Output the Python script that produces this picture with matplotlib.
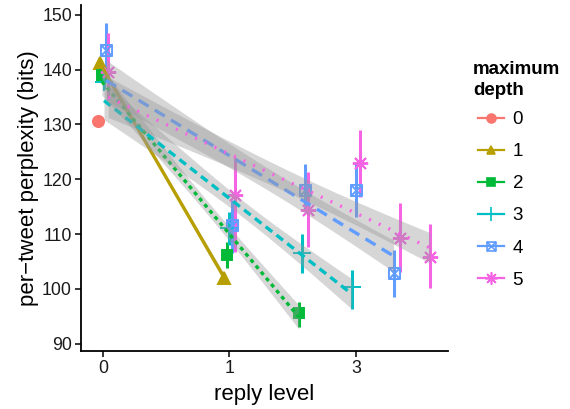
import numpy as np
import matplotlib
matplotlib.use("Agg")
import matplotlib.pyplot as plt
from matplotlib.path import Path
from matplotlib.lines import Line2D

plt.rcParams['font.family'] = ['Liberation Sans', 'DejaVu Sans']

# datos: medias por nivel de respuesta y profundidad maxima
profundidades = [0, 1, 2, 3, 4, 5]
colores = ['#F8766D', '#B79F00', '#00BA38', '#00BFC4', '#619CFF', '#F564E3']

medias = {
    0: [130.7],
    1: [141.2, 102.0],
    2: [139.1, 106.2, 95.6],
    3: [137.8, 111.2, 106.6, 100.4],
    4: [143.6, 111.7, 118.1, 118.0, 103.0],
    5: [139.6, 117.2, 114.4, 123.0, 109.3, 105.9],
}
inferior = {
    0: [130.3],
    1: [140.4, 101.2],
    2: [137.7, 103.9, 93.1],
    3: [136.5, 108.0, 102.9, 96.3],
    4: [138.5, 106.6, 114.4, 113.2, 98.6],
    5: [134.5, 106.8, 107.7, 116.8, 103.1, 100.2],
}
superior = {
    0: [131.1],
    1: [142.0, 102.8],
    2: [140.5, 108.6, 97.7],
    3: [139.0, 114.0, 110.0, 103.5],
    4: [148.5, 116.3, 122.8, 123.0, 107.1],
    5: [146.7, 124.1, 121.4, 129.0, 115.7, 111.9],
}

# ajustes lineales (intercepto, pendiente) y ancho de la banda de confianza
ajuste_intercepto = {1: 140.2, 2: 137.6, 3: 134.5, 4: 138.4, 5: 135.4}
ajuste_pendiente = {1: -39.8, 2: -27.6, 3: -18.0, 4: -14.1, 5: -10.8}
banda_centro = {1: 0.4, 2: 1.2, 3: 1.5, 4: 2.0, 5: 2.0}
banda_extremo = {1: 0.7, 2: 2.5, 3: 3.5, 4: 3.7, 5: 3.7}

etiquetas_x = ['0', '1', '3']
valores_x = [0, 1, 3]

# marcador cuadrado con una cruz (como shape 7 de ggplot)
cuadro_x = Path([(-1, -1), (1, -1), (1, 1), (-1, 1), (-1, -1), (1, 1), (-1, 1), (1, -1)],
                [Path.MOVETO, Path.LINETO, Path.LINETO, Path.LINETO, Path.LINETO,
                 Path.LINETO, Path.MOVETO, Path.LINETO])
marcadores = ['o', '^', 's', '+', cuadro_x, (8, 2, 0)]
tam_marcador = [8, 8, 7.5, 13, 8, 11]
relleno = [True, True, True, False, False, False]
estilos = ['-', '-', (0, (1.2, 1.2)), (0, (2.5, 1.6)), (0, (3.5, 2.2)), (0, (0.6, 2.6))]

ancho_dodge = 0.1


def posicion_x(prof, nivel):
    n = 6 - nivel
    i = prof - nivel
    return np.log2(nivel + 1) + ancho_dodge * ((i + 0.5) / n - 0.5)


fig = plt.figure(figsize=(5.7, 4.09), dpi=100)
ax = fig.add_axes([0.142, 0.142, 0.644, 0.846])

# puntos con intervalos
for d in profundidades:
    xs = np.array([posicion_x(d, r) for r in range(d + 1)])
    ys = np.array(medias[d])
    ax.vlines(xs, inferior[d], superior[d], color=colores[d], lw=2.2, zorder=2)
    fc = colores[d] if relleno[d] else 'none'
    ax.plot(xs, ys, ls='none', marker=marcadores[d], ms=tam_marcador[d],
            mfc=fc, mec=colores[d], mew=1.4, color=colores[d], zorder=3)

# regresiones con bandas
z = 4
for d in profundidades[1:]:
    xs = np.array([posicion_x(d, r) for r in range(d + 1)])
    xx = np.linspace(xs.min(), xs.max(), 80)
    yy = ajuste_intercepto[d] + ajuste_pendiente[d] * xx
    xc = xs.mean()
    dist = np.abs(xs - xc).max()
    b = np.sqrt(max(banda_extremo[d] ** 2 - banda_centro[d] ** 2, 0)) / dist
    h = np.sqrt(banda_centro[d] ** 2 + (b * (xx - xc)) ** 2)
    ax.fill_between(xx, yy - h, yy + h, color='#999999', alpha=0.4, lw=0, zorder=z)
    ax.plot(xx, yy, color=colores[d], lw=2.4, ls=estilos[d], zorder=z + 1)
    z += 2

ax.set_xlim(-0.174, 2.727)
ax.set_ylim(88.7, 151.8)
ax.set_xticks(np.log2(np.array(valores_x) + 1))
ax.set_xticklabels(etiquetas_x)
ax.set_yticks([90, 100, 110, 120, 130, 140, 150])
ax.tick_params(labelsize=12.8, length=4, width=1.1, pad=2.5,
               color='black', labelcolor='#1a1a1a')
for s in ['top', 'right']:
    ax.spines[s].set_visible(False)
for s in ['left', 'bottom']:
    ax.spines[s].set_linewidth(1.3)
ax.set_xlabel('reply level', fontsize=16, labelpad=5)
ax.set_ylabel('per\u2212tweet perplexity (bits)', fontsize=16, labelpad=2)

# leyenda: titulo aparte para controlar su posicion
fig.text(473 / 570, 1 - 61 / 409, 'maximum\ndepth', fontsize=13.5, fontweight='bold',
         va='top', ha='left', linespacing=1.3)
manejadores = []
for d in profundidades:
    fc = colores[d] if relleno[d] else 'none'
    manejadores.append(Line2D([0], [0], color=colores[d], lw=1.6, marker=marcadores[d],
                              ms=tam_marcador[d] * 0.8, mfc=fc, mec=colores[d], mew=1.2))
leg = fig.legend(manejadores, [str(d) for d in profundidades],
                 loc='upper left', bbox_to_anchor=(478 / 570, 1 - 111 / 409), frameon=False,
                 borderpad=0, borderaxespad=0, fontsize=13.5, handlelength=1.4,
                 labelspacing=0.8, handletextpad=0.45)

fig.savefig('out.png', dpi=100)
